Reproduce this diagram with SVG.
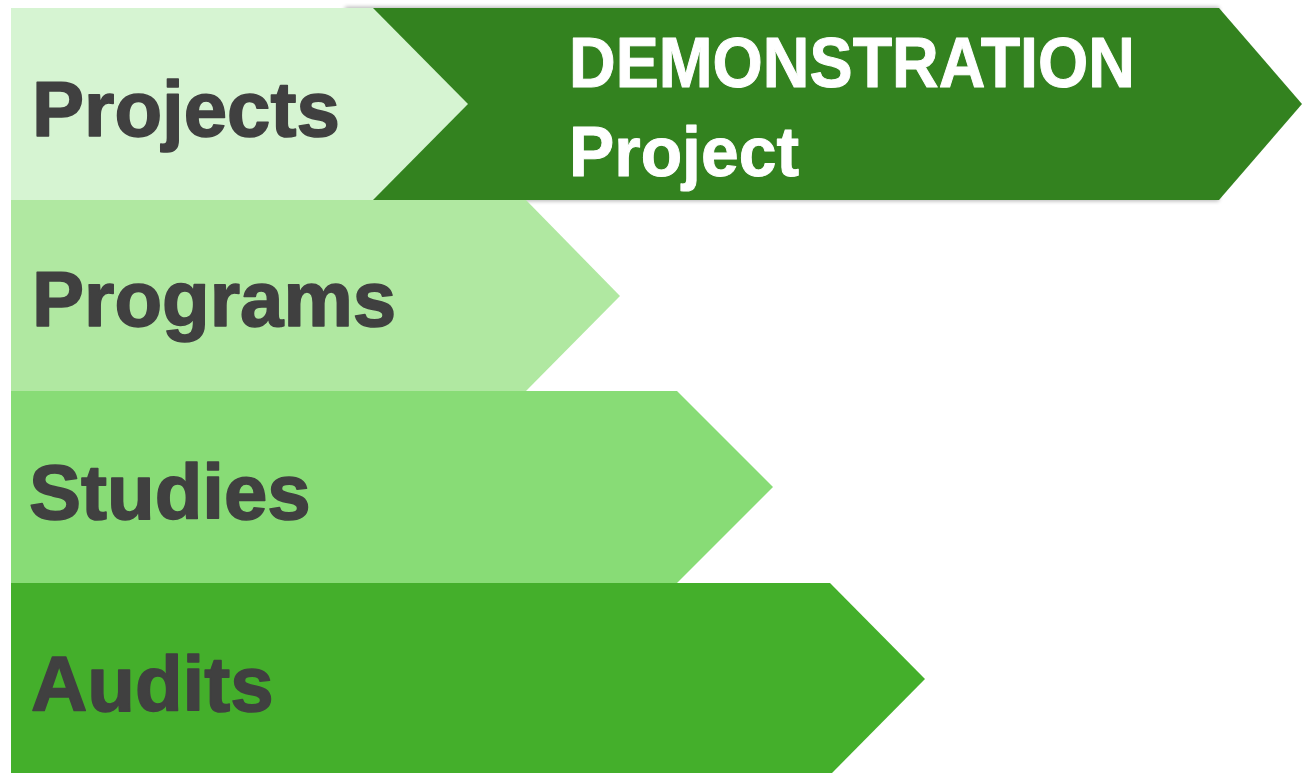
<svg xmlns="http://www.w3.org/2000/svg" width="1302" height="773" viewBox="0 0 1302 773">
<defs>
<filter id="blur" x="-5%" y="-10%" width="110%" height="120%">
<feGaussianBlur stdDeviation="2"/>
</filter>
</defs>
<style>
.lbl{font-family:"Liberation Sans",Arial,sans-serif;font-weight:bold;font-size:78px;fill:#404040;stroke:#404040;stroke-width:1.6px;stroke-linejoin:round}
.demo{font-family:"Liberation Sans Narrow","Liberation Sans",Arial,sans-serif;font-weight:bold;font-size:70px;fill:#ffffff;stroke:#ffffff;stroke-width:1px;stroke-linejoin:round}
</style>
<rect width="1302" height="773" fill="#ffffff"/>
<g id="demonstration">
<rect x="345" y="7" width="874" height="194" fill="#000" opacity="0.3" filter="url(#blur)"/>
<polygon points="345,8 1219,8 1302,104 1219,200 345,200" fill="#33821f"/>
<text class="demo" x="569" y="87" textLength="566" lengthAdjust="spacingAndGlyphs">DEMONSTRATION</text>
<text class="demo" x="569" y="176" textLength="230" lengthAdjust="spacingAndGlyphs">Project</text>
</g>
<g id="projects">
<polygon points="11,8 373,8 468,104 373,200 11,200" fill="#d6f4d2"/>
<text class="lbl" x="32" y="136">Projects</text>
</g>
<g id="programs">
<polygon points="11,200 526,200 620,296 526,391 11,391" fill="#b0e8a1"/>
<text class="lbl" x="32" y="326">Programs</text>
</g>
<g id="studies">
<polygon points="11,391 677,391 773,487 677,583 11,583" fill="#88dc76"/>
<text class="lbl" x="29" y="519">Studies</text>
</g>
<g id="audits">
<polygon points="11,583 830,583 925,679 832,773 11,773" fill="#44af2b"/>
<text class="lbl" x="31" y="711">Audits</text>
</g>
<g id="connectors"/>
</svg>
